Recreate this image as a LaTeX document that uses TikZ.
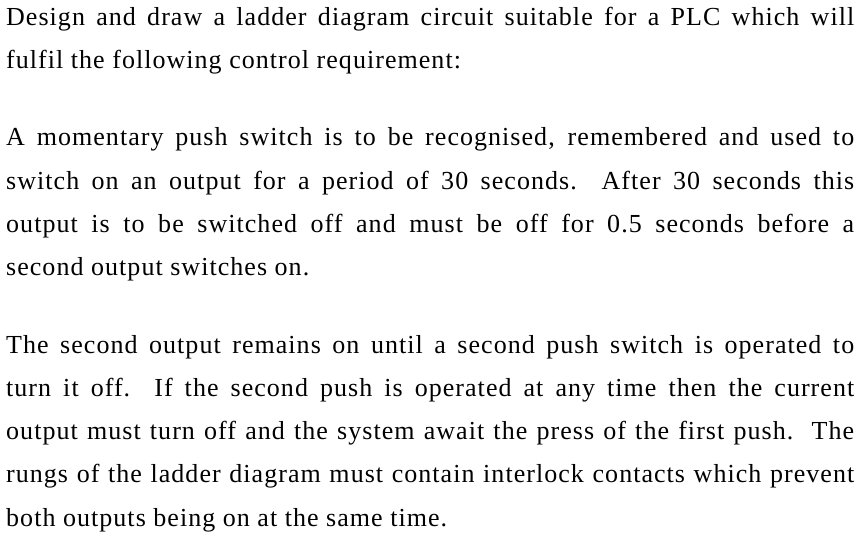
\documentclass[tikz,border=0pt]{standalone}
\usepackage{fontspec}
\setmainfont[LetterSpace=4.0]{Liberation Serif}
\begin{document}
\begin{tikzpicture}[x=1pt,y=1pt,
  ln/.style={anchor=base west,inner sep=0pt,font=\fontsize{26}{30}\selectfont}]
\useasboundingbox[fill=white] (0,0) rectangle (860,536);
\newcommand\J[1]{\makebox[848pt][s]{#1}}
\node[ln] (l1) at (6,510) {\J{Design and draw a ladder diagram circuit suitable for a PLC which will}};
\node[ln] (l2) at (6,467) {fulfil the following control requirement:};
\node[ln] (l3) at (6,390) {\J{A momentary push switch is to be recognised, remembered and used to}};
\node[ln] (l4) at (6,346) {\J{switch on an output for a period of 30 seconds.\ \ After 30 seconds this}};
\node[ln] (l5) at (6,303) {\J{output is to be switched off and must be off for 0.5 seconds before a}};
\node[ln] (l6) at (6,260) {second output switches on.};
\node[ln] (l7) at (6,182) {\J{The second output remains on until a second push switch is operated to}};
\node[ln] (l8) at (6,139) {\J{turn it off.\ \ If the second push is operated at any time then the current}};
\node[ln] (l9) at (6,96) {\J{output must turn off and the system await the press of the first push.\ \ The}};
\node[ln] (l10) at (6,53) {\J{rungs of the ladder diagram must contain interlock contacts which prevent}};
\node[ln] (l11) at (6,10) {both outputs being on at the same time.};
\end{tikzpicture}
\end{document}
